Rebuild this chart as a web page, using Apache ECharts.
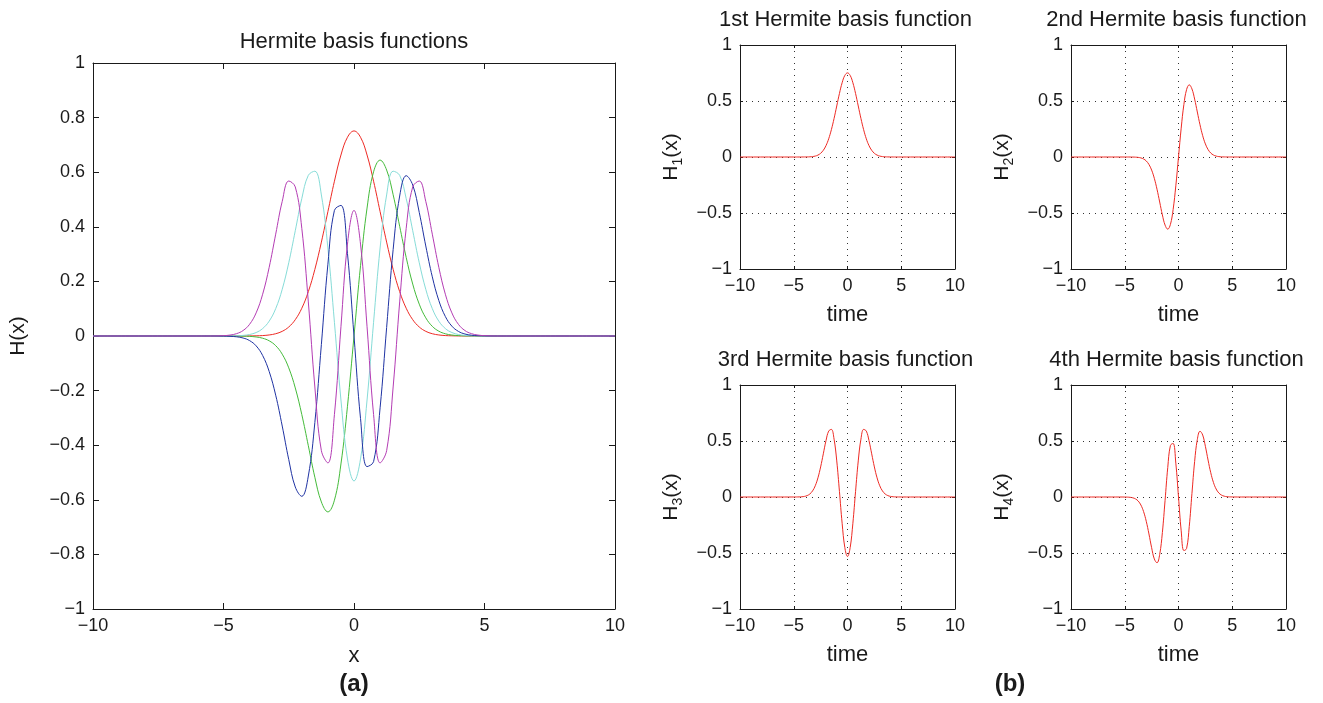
<!DOCTYPE html>
<html>
<head>
<meta charset="utf-8">
<script src="https://cdn.jsdelivr.net/npm/echarts@6/dist/echarts.min.js"></script>
<style>
html,body{margin:0;padding:0;background:#fff;}
#chart{width:1323px;height:703px;}
</style>
</head>
<body>
<div id="chart"></div>
<script>
// x sample positions
const xs = [-10,-5.5,-5,-4.75,-4.5,-4.25,-4,-3.75,-3.5,-3.25,-3,-2.75,-2.5,-2.25,-2,-1.75,-1.5,-1.25,-1,-0.75,-0.5,-0.25,0,0.25,0.5,0.75,1,1.25,1.5,1.75,2,2.25,2.5,2.75,3,3.25,3.5,3.75,4,4.25,4.5,4.75,5,5.5,10];

// Hermite function values
const h0 = [0,0,0,0,0,0.0001,0.0003,0.0007,0.0016,0.0038,0.0083,0.0171,0.0330,0.0598,0.1017,0.1624,0.2439,0.3439,0.4556,0.5670,0.6629,0.7280,0.7511,0.7280,0.6629,0.5670,0.4556,0.3439,0.2439,0.1624,0.1017,0.0598,0.0330,0.0171,0.0083,0.0038,0.0016,0.0007,0.0003,0.0001,0,0,0,0,0];
const h1 = [0,0,0,-0.0001,-0.0002,-0.0005,-0.0014,-0.0035,-0.0081,-0.0176,-0.0354,-0.0666,-0.1167,-0.1902,-0.2877,-0.4019,-0.5174,-0.6079,-0.6443,-0.6014,-0.4687,-0.2574,0,0.2574,0.4687,0.6014,0.6443,0.6079,0.5174,0.4019,0.2877,0.1902,0.1167,0.0666,0.0354,0.0176,0.0081,0.0035,0.0014,0.0005,0.0002,0.0001,0,0,0];
const h2 = [0,0,0.0001,0.0003,0.0008,0.0022,0.0055,0.0127,0.0273,0.0544,0.1003,0.1711,0.2684,0.3856,0.5034,0.5885,0.6036,0.5167,0.3222,0.0501,-0.2344,-0.4504,-0.5311,-0.4504,-0.2344,0.0501,0.3222,0.5167,0.6036,0.5885,0.5034,0.3856,0.2684,0.1711,0.1003,0.0544,0.0273,0.0127,0.0055,0.0022,0.0008,0.0003,0.0001,0,0];
const h3 = [0,0,-0.0004,-0.0011,-0.0029,-0.0073,-0.0169,-0.0361,-0.0714,-0.1299,-0.2168,-0.3298,-0.4526,-0.5531,-0.5872,-0.5128,-0.3168,-0.0310,0.2630,0.4603,0.4784,0.3021,0,-0.3021,-0.4784,-0.4603,-0.2630,0.0310,0.3168,0.5128,0.5872,0.5531,0.4526,0.3298,0.2168,0.1299,0.0714,0.0361,0.0169,0.0073,0.0029,0.0011,0.0004,0,0];
const h4 = [0,0,0.0013,0.0034,0.0086,0.0200,0.0429,0.0847,0.1530,0.2515,0.3730,0.4931,0.5677,0.5461,0.3944,0.1248,-0.1867,-0.4201,-0.4650,-0.2875,0.0338,0.3367,0.4600,0.3367,0.0338,-0.2875,-0.4650,-0.4201,-0.1867,0.1248,0.3944,0.5461,0.5677,0.4931,0.3730,0.2515,0.1530,0.0847,0.0429,0.0200,0.0086,0.0034,0.0013,0,0];

const mainColors = ['#ee2a24','#44bb3a','#86dcd8','#1f33a3','#b43cb4'];
const mainOrder = [h0, h1, h2, h3, h4];

const smallTitles = ['1st Hermite basis function','2nd Hermite basis function','3rd Hermite basis function','4th Hermite basis function'];
const smallSubs = ['1','2','3','4'];
const smallData = [h0, h1, h2, h3];

const FONT = '"Liberation Sans", Arial, Helvetica, sans-serif';
const INK = '#1a1a1a';

function pairs(ys){ return xs.map((x,i)=>[x, ys[i]]); }
function fmt(v){ const r = Math.round(v*10)/10; return String(r).replace('-', '\u2212'); }

const grids = [], xAxes = [], yAxes = [], series = [], graphics = [];

function addPanel(g, box, opt){
  grids.push({left: box[0], top: box[1], width: box[2], height: box[3], show: false});
  const lineStyle = {color: INK, width: 1};
  const tick = {inside: true, length: opt.tick, lineStyle: {color: INK, width: 1}};
  const split = {show: !!opt.dotted, lineStyle: {type: [1, 5], color: '#333', width: 1}};
  xAxes.push({
    gridIndex: g, type: 'value', min: -10, max: 10, interval: 5, position: 'bottom',
    axisLine: {show: true, onZero: false, lineStyle},
    axisTick: tick,
    axisLabel: {margin: 8, fontSize: 18, color: INK, fontFamily: FONT, formatter: fmt},
    splitLine: split,
    name: opt.xName, nameLocation: 'middle', nameGap: opt.xGap,
    nameTextStyle: {fontSize: 22, color: INK, fontFamily: FONT}
  });
  xAxes.push({
    gridIndex: g, type: 'value', min: -10, max: 10, interval: 5, position: 'top',
    axisLine: {show: true, onZero: false, lineStyle},
    axisTick: tick, axisLabel: {show: false}, splitLine: {show: false}
  });
  yAxes.push({
    gridIndex: g, type: 'value', min: -1, max: 1, interval: opt.yInt, position: 'left',
    axisLine: {show: true, onZero: false, lineStyle},
    axisTick: tick,
    axisLabel: {margin: 8, fontSize: 18, color: INK, fontFamily: FONT, formatter: fmt},
    splitLine: split,
    name: opt.yName, nameLocation: 'middle', nameGap: opt.yGap, nameRotate: 90,
    nameTextStyle: {fontSize: opt.yFs, color: INK, fontFamily: FONT, rich: opt.rich}
  });
  yAxes.push({
    gridIndex: g, type: 'value', min: -1, max: 1, interval: opt.yInt, position: 'right',
    axisLine: {show: true, onZero: false, lineStyle},
    axisTick: tick, axisLabel: {show: false}, splitLine: {show: false}
  });
}

function addText(txt, x, y, size, weight){
  graphics.push({type: 'text', x: x, y: y, silent: true, style: {
    text: txt, fill: INK, font: (weight||'normal') + ' ' + size + 'px ' + FONT,
    align: 'center', verticalAlign: 'middle', textAlign: 'center', textVerticalAlign: 'middle'
  }});
}

// main panel (a)
addPanel(0, [93, 63, 522, 546], {tick: 6, yInt: 0.2, xName: 'x', xGap: 36, yName: 'H(x)', yGap: 64, yFs: 21, dotted: false});
mainOrder.forEach((ys, k) => {
  series.push({type: 'line', xAxisIndex: 0, yAxisIndex: 0, data: pairs(ys), showSymbol: false, smooth: 0.4,
    lineStyle: {color: mainColors[k], width: 1}, itemStyle: {color: mainColors[k]}, animation: false});
});
addText('Hermite basis functions', 354, 42, 22);
addText('(a)', 354, 684, 24, 'bold');

// small panels (b)
const boxes = [[740, 45, 215, 224], [1071, 45, 215, 224], [740, 385, 215, 224], [1071, 385, 215, 224]];
boxes.forEach((b, i) => {
  const g = i + 1;
  addPanel(g, b, {
    tick: 3, yInt: 0.5, xName: 'time', xGap: 35, dotted: true, yGap: 55, yFs: 21,
    yName: '{n|H}{s|' + smallSubs[i] + '}{n|(x)}',
    rich: {n: {fontSize: 21, fontFamily: FONT, color: INK, lineHeight: 28}, s: {fontSize: 14, fontFamily: FONT, color: INK, verticalAlign: 'bottom', lineHeight: 28}}
  });
  series.push({type: 'line', xAxisIndex: 2*g, yAxisIndex: 2*g, data: pairs(smallData[i]), showSymbol: false, smooth: 0.4,
    lineStyle: {color: '#ee2a24', width: 1}, itemStyle: {color: '#ee2a24'}, animation: false});
  addText(smallTitles[i], b[0] + b[2]/2 - 2, b[1] - 25, 22);
});
addText('(b)', 1010, 684, 24, 'bold');

const chart = echarts.init(document.getElementById('chart'), null, {renderer: 'canvas'});
chart.setOption({
  animation: false,
  backgroundColor: '#fff',
  grid: grids, xAxis: xAxes, yAxis: yAxes, series: series, graphic: graphics
});
</script>
</body>
</html>
